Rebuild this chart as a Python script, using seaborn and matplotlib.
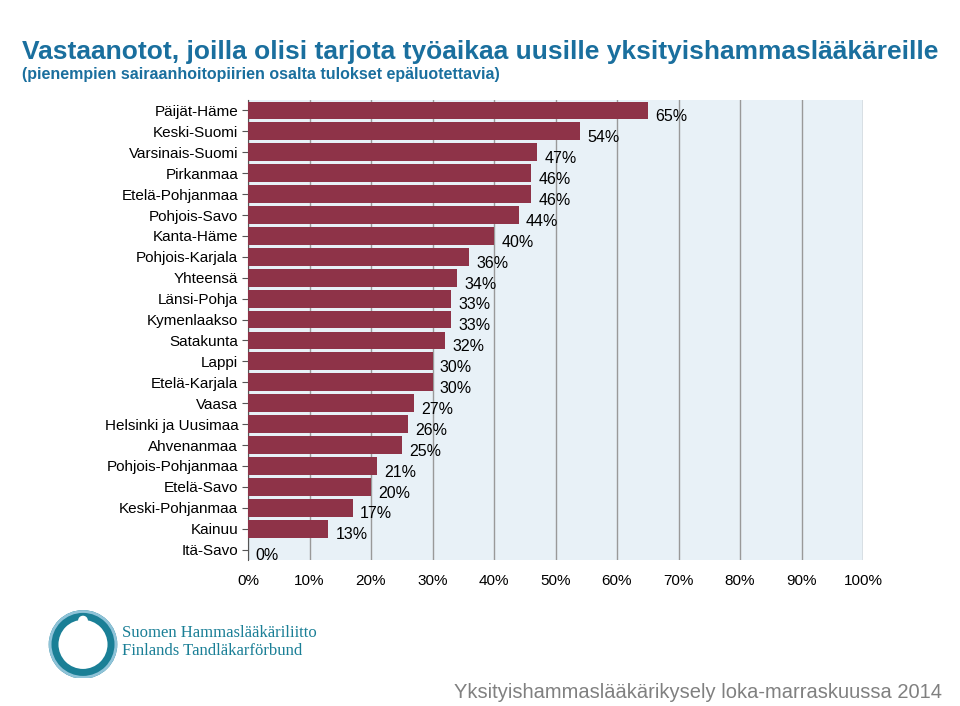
import matplotlib
matplotlib.use("Agg")
import matplotlib.pyplot as plt
import seaborn as sns
import pandas as pd
from matplotlib.patches import Circle

regions = ["Päijät-Häme","Keski-Suomi","Varsinais-Suomi","Pirkanmaa","Etelä-Pohjanmaa",
           "Pohjois-Savo","Kanta-Häme","Pohjois-Karjala","Yhteensä","Länsi-Pohja",
           "Kymenlaakso","Satakunta","Lappi","Etelä-Karjala","Vaasa",
           "Helsinki ja Uusimaa","Ahvenanmaa","Pohjois-Pohjanmaa","Etelä-Savo",
           "Keski-Pohjanmaa","Kainuu","Itä-Savo"]
values = [65,54,47,46,46,44,40,36,34,33,33,32,30,30,27,26,25,21,20,17,13,0]
xticks = [0,10,20,30,40,50,60,70,80,90,100]

df = pd.DataFrame({"region": regions, "value": values})

fig = plt.figure(figsize=(9.6, 7.06), dpi=100)
ax = fig.add_axes([248/960, 1-560/706, (863-248)/960, 460/706])
ax.set_facecolor("#e8f1f7")
sns.barplot(data=df, x="value", y="region", color="#8e3348", saturation=1,
            width=0.85, ax=ax, zorder=3)
ax.set_xlim(0, 100)
ax.set_ylim(len(regions)-0.5, -0.5)
ax.set_xticks(xticks)
ax.set_xticklabels([f"{t}%" for t in xticks], fontsize=11, fontfamily="Liberation Sans")
ax.set_yticklabels(regions, fontsize=11, fontfamily="Liberation Sans")
ax.set_xlabel(""); ax.set_ylabel("")
ax.grid(axis="x", color="#999999", linewidth=1, zorder=0)
ax.set_axisbelow(True)
for s in ["top", "right"]:
    ax.spines[s].set_visible(False)
ax.spines["bottom"].set_visible(False)
ax.spines["left"].set_color("#555555")
ax.tick_params(axis="y", length=4, color="#555555", pad=3)
ax.tick_params(axis="x", length=0, pad=10)
for i, v in enumerate(values):
    ax.text(v + 1.2, i + 0.3, f"{v}%", va="center", ha="left", fontsize=11.5,
            fontfamily="Liberation Sans", zorder=4)

fig.text(22/960, 1-52/706, "Vastaanotot, joilla olisi tarjota työaikaa uusille yksityishammaslääkäreille",
         fontsize=19, fontweight="bold", color="#1a6f9e", fontfamily="Liberation Sans", va="center")
fig.text(22/960, 1-75/706, "(pienempien sairaanhoitopiirien osalta tulokset epäluotettavia)",
         fontsize=11.5, fontweight="bold", color="#1a6f9e", fontfamily="Liberation Sans", va="center")

# logo
lax = fig.add_axes([48/960, 1-678/706, 70/960, 70/706])
lax.set_xlim(0, 1); lax.set_ylim(0, 1); lax.axis("off"); lax.set_aspect("equal")
lax.add_patch(Circle((0.5, 0.48), 0.42, fill=False, lw=7, color="#1a7f96"))
lax.add_patch(Circle((0.5, 0.48), 0.47, fill=False, lw=2, color="#8fc3d8"))
lax.add_patch(Circle((0.5, 0.82), 0.06, color="white"))
fig.text(122/960, 1-633/706, "Suomen Hammaslääkäriliitto", fontsize=12, color="#1a7f96",
         fontfamily="Liberation Serif", va="center")
fig.text(122/960, 1-651/706, "Finlands Tandläkarförbund", fontsize=12, color="#1a7f96",
         fontfamily="Liberation Serif", va="center")
fig.text(942/960, 1-693/706, "Yksityishammaslääkärikysely loka-marraskuussa 2014", fontsize=14.5,
         color="#808080", fontfamily="Liberation Sans", ha="right", va="center")
fig.savefig("out.png", dpi=100)
